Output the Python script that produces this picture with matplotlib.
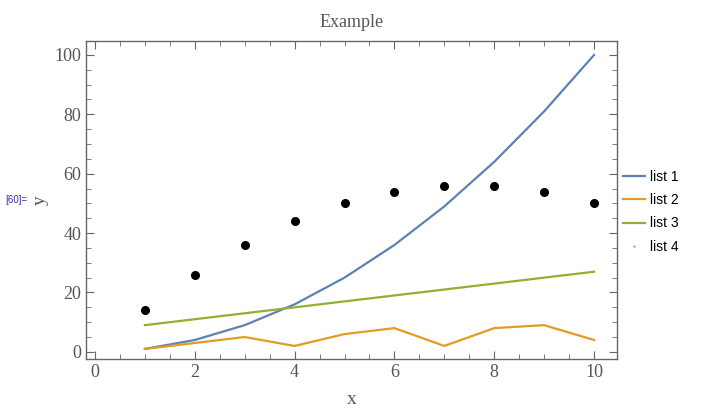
import matplotlib
matplotlib.use("Agg")
import matplotlib.pyplot as plt
from matplotlib.ticker import MultipleLocator
from matplotlib.lines import Line2D

x = [1, 2, 3, 4, 5, 6, 7, 8, 9, 10]
list1 = [1, 4, 9, 16, 25, 36, 49, 64, 81, 100]
list2 = [1, 3, 5, 2, 6, 8, 2, 8, 9, 4]
list3 = [9, 11, 13, 15, 17, 19, 21, 23, 25, 27]
list4 = [14, 26, 36, 44, 50, 54, 56, 56, 54, 50]
labels = ["list 1", "list 2", "list 3", "list 4"]
colors = ["#5E81B5", "#E19C24", "#8FB032", "#000000"]

fig = plt.figure(figsize=(7.13, 4.16), dpi=100)
ax = fig.add_axes([86/713, 1-359/416, (617-86)/713, (359-41)/416])

ax.plot(x, list1, color=colors[0], lw=1.6)
ax.plot(x, list2, color=colors[1], lw=1.6)
ax.plot(x, list3, color=colors[2], lw=1.6)
ax.plot(x, list4, 'o', color=colors[3], ms=5.5, lw=0)

ax.set_xlim(-0.18, 10.46)
ax.set_ylim(-2.4, 104.7)
ax.xaxis.set_major_locator(MultipleLocator(2))
ax.xaxis.set_minor_locator(MultipleLocator(0.5))
ax.yaxis.set_major_locator(MultipleLocator(20))
ax.yaxis.set_minor_locator(MultipleLocator(5))

gray = "#555555"
serif = ["Liberation Serif", "DejaVu Serif"]
for s in ax.spines.values():
    s.set_color("#666666")
    s.set_linewidth(1.0)
ax.tick_params(which="both", direction="in", top=True, right=True, colors="#666666",
               labelcolor=gray, labelsize=13)
ax.tick_params(which="major", length=6)
ax.tick_params(which="minor", length=3.5)
for lab in ax.get_xticklabels() + ax.get_yticklabels():
    lab.set_family(serif)

ax.set_title("Example", family=serif, color=gray, fontsize=13, pad=10)
ax.set_xlabel("x", family=serif, color=gray, fontsize=14)
ax.xaxis.set_label_coords(0.5, -(400-359)/318, transform=ax.transAxes)
ax.set_ylabel("y", family=serif, color=gray, fontsize=14)
ax.yaxis.set_label_coords(-(86-40)/531, 0.5, transform=ax.transAxes)
ax.xaxis.label.set_va("center")
ax.yaxis.label.set_va("center")

handles = [Line2D([], [], color=colors[0], lw=1.6),
           Line2D([], [], color=colors[1], lw=1.6),
           Line2D([], [], color=colors[2], lw=1.6),
           Line2D([], [], color="#888888", marker='.', ms=1, lw=0)]
leg = fig.legend(handles, labels, loc="upper left", bbox_to_anchor=(610/713, 1-157/416),
                 frameon=False, prop={"family": "Liberation Sans", "size": 10},
                 handlelength=1.6, handletextpad=0.4, labelspacing=0.68)

fig.text(5/713, 1-200/416, "[60]=", color="#3333aa", fontsize=7, family="Liberation Sans", va="center")

fig.savefig("out.png", dpi=100)
